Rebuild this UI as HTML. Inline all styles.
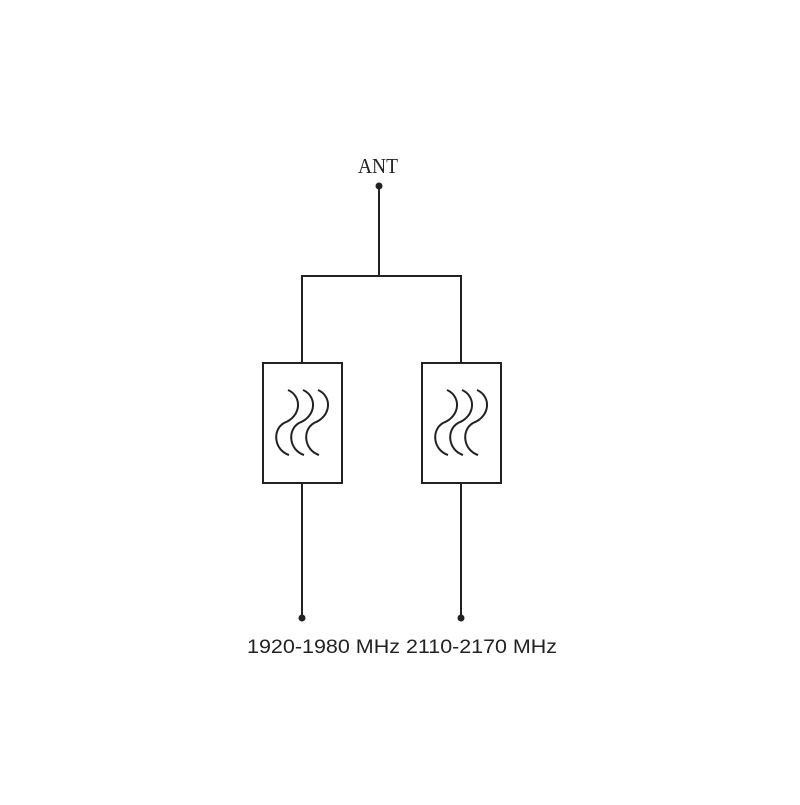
<!DOCTYPE html>
<html><head><style>
body{margin:0;background:#fff;}
</style></head><body>
<svg width="800" height="800" viewBox="0 0 800 800" xmlns="http://www.w3.org/2000/svg">
<rect width="800" height="800" fill="#fff"/>
<g stroke="#222" stroke-width="2" fill="none">
<line x1="379" y1="186" x2="379" y2="276"/>
<polyline points="302,363 302,276 461,276 461,363"/>
<rect x="263" y="363" width="79" height="120"/>
<rect x="422" y="363" width="79" height="120"/>
<line x1="302" y1="483" x2="302" y2="618"/>
<line x1="461" y1="483" x2="461" y2="618"/>
<g id="w">
<path d="M288,390 C302,396 302,416 284,423 C272,430 274,450 289,455"/>
<path d="M303,390 C317,396 317,416 299,423 C287,430 289,450 304,455"/>
<path d="M318,390 C332,396 332,416 314,423 C302,430 304,450 319,455"/>
</g>
<use href="#w" x="159"/>
</g>
<g fill="#222">
<circle cx="379" cy="186" r="3.5"/>
<circle cx="302" cy="618" r="3.5"/>
<circle cx="461" cy="618" r="3.5"/>
</g>
<text x="358" y="173" font-family="Liberation Serif, serif" font-size="21" textLength="40" lengthAdjust="spacingAndGlyphs" fill="#222">ANT</text>
<text x="247" y="653" font-family="Liberation Sans, sans-serif" font-size="19" textLength="153" lengthAdjust="spacingAndGlyphs" fill="#222">1920-1980 MHz</text>
<text x="406" y="653" font-family="Liberation Sans, sans-serif" font-size="19" textLength="151" lengthAdjust="spacingAndGlyphs" fill="#222">2110-2170 MHz</text>
</svg>
</body></html>
